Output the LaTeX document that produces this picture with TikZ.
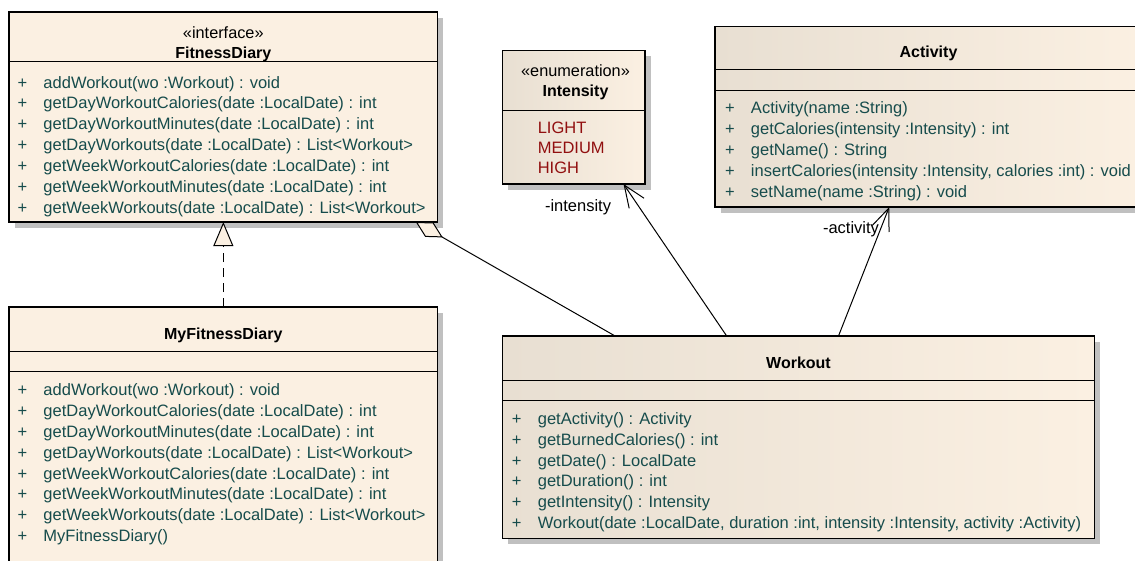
\documentclass[tikz,border=0pt]{standalone}
\usepackage{fontspec}
\setmainfont{Liberation Sans}
\usetikzlibrary{arrows.meta,calc,shadows}
\definecolor{cream}{RGB}{251,240,226}
\definecolor{creamdark}{RGB}{232,223,210}
\definecolor{optext}{RGB}{22,76,76}
\definecolor{littext}{RGB}{145,15,15}
\definecolor{shadowgray}{RGB}{192,192,192}
\newcommand\opline[4]{\node[op] (#1) at (#2,#3) {\makebox[26pt][l]{+}#4};}
\begin{document}
\begin{tikzpicture}[x=1pt,y=-1pt,
  every node/.style={inner sep=0pt, outer sep=0pt},
  umlbox/.style={draw=black, line width=1.3pt, rectangle, anchor=north west,
    drop shadow={shadow xshift=5.5pt, shadow yshift=-5.5pt, fill=shadowgray, opacity=1}},
  plainbox/.style={umlbox, fill=cream},
  gradbox/.style={umlbox, left color=creamdark, right color=cream},
  divider/.style={line width=1pt},
  classname/.style={font=\fontsize{16}{19}\selectfont\bfseries, anchor=base},
  stereo/.style={font=\fontsize{16.3}{19}\selectfont, anchor=base},
  op/.style={font=\fontsize{16.5}{19}\selectfont, text=optext, anchor=base west},
  lit/.style={font=\fontsize{16.5}{19}\selectfont, text=littext, anchor=base west},
  role/.style={font=\fontsize{16.5}{19}\selectfont, anchor=base west},
  conn/.style={line width=1pt},
]
\useasboundingbox (0,0) rectangle (1135,560);
\clip (0,0) rectangle (1135,560);

% ---------- boxes ----------
\node[plainbox, minimum width=428.7pt, minimum height=210pt] (fd) at (9,12) {};
\node[gradbox, minimum width=142.3pt, minimum height=133.3pt] (int) at (502.7,50.7) {};
\node[gradbox, minimum width=427pt, minimum height=180.3pt] (act) at (715,26.7) {};
\node[plainbox, minimum width=428.7pt, minimum height=280pt] (mfd) at (9,307) {};
\node[gradbox, minimum width=591.6pt, minimum height=202.3pt] (wo) at (502.7,336) {};

% ---------- dividers ----------
\draw[divider] ($(fd.north west)+(0,49.7)$) -- ($(fd.north east)+(0,49.7)$);
\draw[divider] ($(int.north west)+(0,59.3)$) -- ($(int.north east)+(0,59.3)$);
\draw[divider] ($(act.north west)+(0,43)$) -- ($(act.north east)+(0,43)$);
\draw[divider] ($(act.north west)+(0,63.6)$) -- ($(act.north east)+(0,63.6)$);
\draw[divider] ($(mfd.north west)+(0,44)$) -- ($(mfd.north east)+(0,44)$);
\draw[divider] ($(mfd.north west)+(0,64.7)$) -- ($(mfd.north east)+(0,64.7)$);
\draw[divider] ($(wo.north west)+(0,44)$) -- ($(wo.north east)+(0,44)$);
\draw[divider] ($(wo.north west)+(0,64.3)$) -- ($(wo.north east)+(0,64.3)$);

% ---------- FitnessDiary ----------
\node[stereo] (fdst) at (223.3,38) {«interface»};
\node[classname] (fdn) at (223.3,58.3) {FitnessDiary};
\opline{fd1}{17.5}{88}{addWorkout(wo :Workout) : void}
\opline{fd2}{17.5}{108.9}{getDayWorkoutCalories(date :LocalDate) : int}
\opline{fd3}{17.5}{129.8}{getDayWorkoutMinutes(date :LocalDate) : int}
\opline{fd4}{17.5}{150.7}{getDayWorkouts(date :LocalDate) : List<Workout>}
\opline{fd5}{17.5}{171.6}{getWeekWorkoutCalories(date :LocalDate) : int}
\opline{fd6}{17.5}{192.5}{getWeekWorkoutMinutes(date :LocalDate) : int}
\opline{fd7}{17.5}{213.4}{getWeekWorkouts(date :LocalDate) : List<Workout>}

% ---------- Intensity ----------
\node[stereo] (intst) at (575.5,76.5) {«enumeration»};
\node[classname] (intn) at (575.5,96) {Intensity};
\node[lit] (l1) at (537.8,133.3) {LIGHT};
\node[lit] (l2) at (537.8,153.3) {MEDIUM};
\node[lit] (l3) at (537.8,173.3) {HIGH};

% ---------- Activity ----------
\node[classname] (actn) at (928.5,57) {Activity};
\opline{a1}{725}{113.5}{Activity(name :String)}
\opline{a2}{725}{134.5}{getCalories(intensity :Intensity) : int}
\opline{a3}{725}{155.5}{getName() : String}
\opline{a4}{725}{176.5}{insertCalories(intensity :Intensity, calories :int) : void}
\opline{a5}{725}{197.5}{setName(name :String) : void}

% ---------- MyFitnessDiary ----------
\node[classname] (mfdn) at (223.3,339) {MyFitnessDiary};
\opline{m1}{17.5}{395.6}{addWorkout(wo :Workout) : void}
\opline{m2}{17.5}{416.5}{getDayWorkoutCalories(date :LocalDate) : int}
\opline{m3}{17.5}{437.3}{getDayWorkoutMinutes(date :LocalDate) : int}
\opline{m4}{17.5}{458.2}{getDayWorkouts(date :LocalDate) : List<Workout>}
\opline{m5}{17.5}{479.0}{getWeekWorkoutCalories(date :LocalDate) : int}
\opline{m6}{17.5}{499.9}{getWeekWorkoutMinutes(date :LocalDate) : int}
\opline{m7}{17.5}{520.7}{getWeekWorkouts(date :LocalDate) : List<Workout>}
\opline{m8}{17.5}{541.6}{MyFitnessDiary()}

% ---------- Workout ----------
\node[classname] (won) at (798.5,368) {Workout};
\opline{w1}{511.9}{424.7}{getActivity() : Activity}
\opline{w2}{511.9}{445.4}{getBurnedCalories() : int}
\opline{w3}{511.9}{466.1}{getDate() : LocalDate}
\opline{w4}{511.9}{486.8}{getDuration() : int}
\opline{w5}{511.9}{507.5}{getIntensity() : Intensity}
\opline{w6}{511.9}{528.2}{Workout(date :LocalDate, duration :int, intensity :Intensity, activity :Activity)}

% ---------- connectors ----------
\draw[conn, dash pattern=on 9pt off 6pt, -{Triangle[length=24pt,width=20pt,fill=cream]}]
  (mfd.north) -- (fd.south);
\draw[conn, -{Diamond[length=31pt,width=16.6pt,fill=cream]}]
  ($(wo.north west)!0.19!(wo.north east)$) -- ($(fd.south west)!0.949!(fd.south east)$);
\draw[conn, -{Straight Barb[length=22pt,width=18pt]}]
  ($(wo.north west)!0.3786!(wo.north east)$) -- ($(int.south west)!0.849!(int.south east)$);
\draw[conn, -{Straight Barb[length=22pt,width=18pt]}]
  ($(wo.north west)!0.5676!(wo.north east)$) -- ($(act.south west)!0.408!(act.south east)$);

% ---------- role labels ----------
\node[role] (rint) at (545,211.5) {-intensity};
\node[role] (ract) at (823,233) {-activity};
\end{tikzpicture}
\end{document}
